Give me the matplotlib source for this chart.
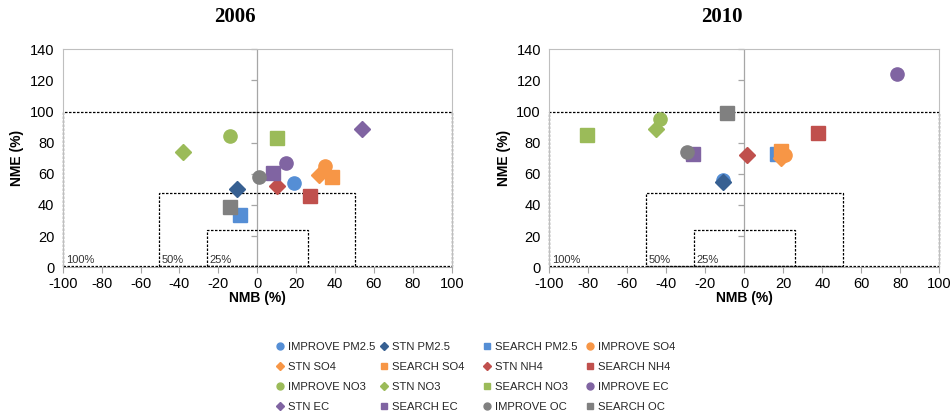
import matplotlib
matplotlib.use("Agg")
import matplotlib.pyplot as plt
from matplotlib.lines import Line2D
from matplotlib.patches import Rectangle

# series: name, marker, colour
series_names = ["IMPROVE PM2.5", "STN PM2.5", "SEARCH PM2.5", "IMPROVE SO4",
                "STN SO4", "SEARCH SO4", "STN NH4", "SEARCH NH4",
                "IMPROVE NO3", "STN NO3", "SEARCH NO3", "IMPROVE EC",
                "STN EC", "SEARCH EC", "IMPROVE OC", "SEARCH OC"]
series_markers = ["o", "D", "s", "o", "D", "s", "D", "s",
                  "o", "D", "s", "o", "D", "s", "o", "s"]
series_colors = ["#558ED5", "#376092", "#558ED5", "#F79646",
                 "#F79646", "#F79646", "#C0504D", "#C0504D",
                 "#9BBB59", "#9BBB59", "#9BBB59", "#8064A2",
                 "#8064A2", "#8064A2", "#808080", "#808080"]

# NMB / NME (%) per series, None = not reported
nmb_2006 = [19, -10.5, -9, 35, 32, 38.5, 10, 27, -14, -38, 10, 15, 54, 8, 1, -14]
nme_2006 = [54, 50, 33.5, 65, 59, 58, 52.5, 45.5, 84.5, 74, 83, 67, 89, 60.5, 58, 39]
nmb_2010 = [-11, -11, 17, 21, 19, 19, 1.5, 38, -43, -45.5, -80.5, 78.5, None, -26.5, -29.5, -9]
nme_2010 = [56, 55, 73, 72, 70, 75, 72, 86, 95.5, 89, 85, 124, None, 72.5, 74, 99]

# performance goal boxes: (half-width of NMB, NME limit, label)
goal_boxes = [(100, 100, "100%"), (50.5, 47.5, "50%"), (26, 24, "25%")]

plt.rcParams["font.family"] = ["Liberation Sans", "DejaVu Sans"]
plt.rcParams["axes.unicode_minus"] = False

W, H = 952, 416
fig = plt.figure(figsize=(W / 100, H / 100), dpi=100)
ax1 = fig.add_axes([0.0659, 0.3575, 0.4086, 0.524])
ax2 = fig.add_axes([0.577, 0.3575, 0.4097, 0.524])


def draw_panel(ax, nmb, nme, title, title_x):
    ax.set_xlim(-100, 100)
    ax.set_ylim(0, 140)
    for s in ax.spines.values():
        s.set_color("#BFBFBF")
        s.set_linewidth(0.8)
    ax.spines["bottom"].set_color("#A6A6A6")
    ax.set_xticks(range(-100, 101, 20))
    ax.set_yticks(range(0, 141, 20))
    ax.tick_params(axis="x", direction="out", length=4, color="#A6A6A6",
                   labelsize=10.5, pad=3)
    ax.tick_params(axis="y", length=0, labelsize=10.5, pad=6)

    # vertical axis crossing at NMB = 0 with its own tick marks
    ax.axvline(0, color="#A6A6A6", lw=0.9, zorder=1)
    ax.plot([0] * 7, list(range(20, 141, 20)), ls="none", marker=0,
            ms=4, mew=0.9, color="#A6A6A6", clip_on=False, zorder=1)

    for half, top, lab in goal_boxes:
        ax.add_patch(Rectangle((-half, 0.6), 2 * half, top - 0.6, fill=False,
                               ls=(0, (2, 1.2)), lw=0.9, ec="black", zorder=2,
                               clip_on=False))
        ax.text(-half + 1.5, 2.5, lab, fontsize=8, color="#333333", zorder=2)

    for x, y, m, c in zip(nmb, nme, series_markers, series_colors):
        if x is None:
            continue
        size = 9.5 if m != "D" else 8
        ax.plot(x, y, ls="none", marker=m, ms=size, color=c, mec=c, zorder=3)

    ax.set_xlabel("NMB (%)", fontsize=10, fontweight="bold", labelpad=0)
    ax.set_ylabel("NME (%)", fontsize=10, fontweight="bold", labelpad=4)
    fig.text(title_x, 0.958, title, fontsize=15, fontweight="bold",
             family="Liberation Serif", ha="center", va="center")


draw_panel(ax1, nmb_2006, nme_2006, "2006", 235 / W)
draw_panel(ax2, nmb_2010, nme_2010, "2010", 722 / W)

# shared legend, filled row by row in four fixed-width columns (pixel positions)
col_x = [280, 384, 487, 590]
row_y = [346, 366, 386, 406]
for i, (name, m, c) in enumerate(zip(series_names, series_markers, series_colors)):
    x0, y0 = col_x[i % 4], row_y[i // 4]
    fig.add_artist(Line2D([x0 / W], [1 - y0 / H], transform=fig.transFigure,
                          ls="none", marker=m, color=c,
                          ms=5 if m != "D" else 4.5))
    fig.text((x0 + 8) / W, 1 - y0 / H, name, fontsize=8.1, color="#262626",
             ha="left", va="center_baseline")

fig.savefig("out.png", dpi=100)
